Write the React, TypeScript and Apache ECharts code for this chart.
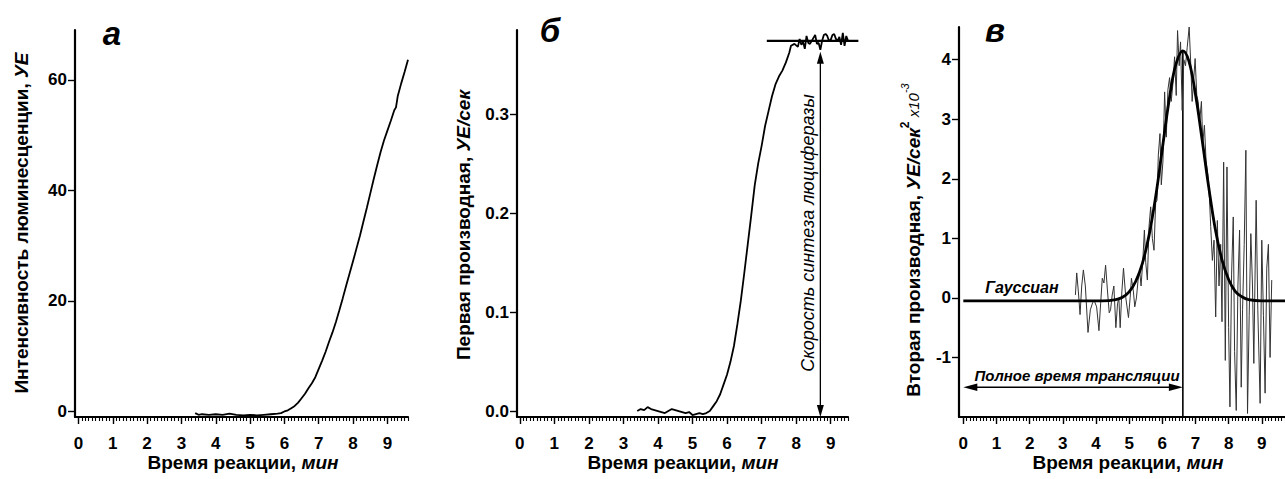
import React, { useEffect, useRef } from "react";
import * as echarts from "echarts";

const FONT = '"Liberation Sans", Arial, Helvetica, sans-serif';

// ---- tick labels ----
const xTickValues = [0, 1, 2, 3, 4, 5, 6, 7, 8, 9];
const xMinorTicks: number[] = [];
for (let i = 0; i <= 97; i++) xMinorTicks.push(i / 10);
const yTicksA = [0, 20, 40, 60];
const yTicksB = [0.0, 0.1, 0.2, 0.3];
const yTicksC = [-1, 0, 1, 2, 3, 4];

// ---- panel а: luminescence intensity ----
const timeA = [3.4, 3.5, 3.6, 3.8, 4.0, 4.2, 4.4, 4.6, 4.8, 5.0, 5.2, 5.4, 5.6, 5.8, 5.9, 6.0, 6.1, 6.2, 6.3, 6.4, 6.5, 6.6, 6.7, 6.8, 6.9, 7.0, 7.1, 7.2, 7.3, 7.4, 7.5, 7.6, 7.7, 7.8, 7.9, 8.0, 8.1, 8.2, 8.3, 8.4, 8.5, 8.6, 8.7, 8.8, 8.9, 9.0, 9.1, 9.2, 9.25, 9.3, 9.4, 9.5, 9.6];
const lumA = [-0.3, -0.6, -0.5, -0.6, -0.5, -0.6, -0.4, -0.6, -0.7, -0.6, -0.7, -0.6, -0.5, -0.4, -0.3, 0.0, 0.2, 0.6, 1.0, 1.6, 2.4, 3.2, 4.2, 5.1, 6.2, 7.7, 9.2, 10.8, 12.6, 14.3, 16.2, 18.3, 20.5, 22.8, 25.0, 27.2, 29.5, 31.8, 34.3, 36.8, 39.4, 42.0, 44.5, 46.9, 49.0, 50.8, 52.6, 54.5, 55.0, 57.0, 59.3, 61.4, 63.6];

// ---- panel б: first derivative ----
const timeB = [3.4, 3.5, 3.6, 3.7, 3.8, 3.9, 4.0, 4.1, 4.2, 4.3, 4.4, 4.5, 4.6, 4.7, 4.8, 4.9, 5.0, 5.1, 5.2, 5.3, 5.4, 5.5, 5.6, 5.7, 5.8, 5.9, 6.0, 6.1, 6.2, 6.3, 6.4, 6.5, 6.6, 6.7, 6.8, 6.9, 7.0, 7.1, 7.2, 7.3, 7.4, 7.5, 7.6, 7.7, 7.8, 7.85, 7.95, 8.05, 8.1, 8.15, 8.2, 8.25, 8.3, 8.35, 8.4, 8.5, 8.55, 8.6, 8.65, 8.7, 8.75, 8.8, 8.85, 8.9, 8.95, 9.0, 9.05, 9.1, 9.15, 9.2, 9.25, 9.3, 9.35, 9.4, 9.45, 9.5];
const rateB = [0.0, 0.002, 0.001, 0.004, 0.002, 0.001, 0.0, -0.001, -0.002, 0.0, 0.002, 0.001, 0.0, -0.001, -0.002, -0.001, -0.004, -0.003, -0.002, -0.003, -0.002, 0.0, 0.005, 0.01, 0.017, 0.027, 0.037, 0.05, 0.066, 0.088, 0.112, 0.14, 0.169, 0.198, 0.228, 0.25, 0.268, 0.288, 0.303, 0.318, 0.33, 0.338, 0.344, 0.352, 0.362, 0.369, 0.371, 0.368, 0.376, 0.37, 0.373, 0.366, 0.379, 0.372, 0.371, 0.377, 0.38, 0.371, 0.372, 0.365, 0.374, 0.38, 0.381, 0.379, 0.374, 0.375, 0.38, 0.381, 0.376, 0.374, 0.378, 0.37, 0.382, 0.369, 0.379, 0.374];

// ---- panel в: second derivative (noisy) ----
const timeC = [3.38, 3.42, 3.47, 3.52, 3.57, 3.62, 3.68, 3.76, 3.83, 3.9, 3.95, 4.02, 4.09, 4.14, 4.19, 4.24, 4.29, 4.35, 4.4, 4.44, 4.49, 4.54, 4.6, 4.65, 4.69, 4.73, 4.78, 4.83, 4.9, 4.98, 5.03, 5.07, 5.13, 5.17, 5.22, 5.27, 5.32, 5.36, 5.41, 5.46, 5.5, 5.55, 5.6, 5.65, 5.7, 5.75, 5.8, 5.84, 5.88, 5.93, 5.97, 6.02, 6.07, 6.12, 6.17, 6.22, 6.27, 6.32, 6.37, 6.42, 6.46, 6.51, 6.55, 6.6, 6.65, 6.7, 6.75, 6.81, 6.86, 6.9, 6.95, 6.99, 7.04, 7.08, 7.13, 7.18, 7.22, 7.27, 7.32, 7.37, 7.42, 7.46, 7.51, 7.56, 7.61, 7.66, 7.71, 7.76, 7.8, 7.85, 7.9, 7.95, 8.0, 8.04, 8.09, 8.14, 8.18, 8.23, 8.28, 8.33, 8.38, 8.42, 8.47, 8.52, 8.57, 8.62, 8.67, 8.72, 8.76, 8.8, 8.83, 8.88, 8.95, 9.0, 9.05, 9.1, 9.15, 9.2, 9.25, 9.3];
const accelC = [0.05, 0.42, 0.1, -0.28, 0.2, 0.47, 0.2, -0.58, -0.2, -0.08, -0.05, -0.15, -0.55, -0.1, 0.33, 0.25, 0.55, 0.1, -0.25, -0.2, 0.05, 0.2, -0.5, -0.1, 0.0, -0.5, 0.1, 0.5, 0.0, -0.33, 0.0, 0.33, 0.1, -0.15, 0.0, 0.3, 0.44, 0.2, 0.6, 1.14, 0.6, 0.3, 1.2, 1.53, 1.0, 0.8, 1.6, 1.64, 2.4, 2.76, 1.9, 2.3, 3.46, 2.7, 3.5, 3.7, 3.3, 3.6, 4.05, 3.4, 4.49, 3.9, 4.3, 3.15, 4.0, 3.9, 4.2, 4.55, 3.9, 3.3, 3.7, 4.02, 3.4, 3.3, 2.98, 3.3, 2.6, 2.9, 2.3, 2.09, 1.7, 1.2, 0.63, 0.97, -0.32, 1.3, 0.2, 0.9, -0.4, 2.28, -1.05, 2.2, -0.5, -1.83, 0.4, 1.36, -0.9, -1.89, 0.2, 1.14, -1.5, -0.2, 0.9, 2.48, -1.94, -0.3, 1.08, 0.2, -1.1, 0.5, 1.64, -0.2, -1.77, 0.97, -0.3, -1.6, 0.5, 0.9, -1.0, 0.3];

// ---- panel в: Gaussian fit ----
const timeGauss = [0, 4.2, 4.6, 4.8, 5.0, 5.2, 5.4, 5.6, 5.8, 6.0, 6.2, 6.4, 6.62, 6.8, 7.0, 7.2, 7.4, 7.6, 7.8, 8.0, 8.2, 8.4, 8.6, 9.0, 9.7];
const gaussC = [-0.05, -0.05, -0.03, 0.01, 0.1, 0.28, 0.58, 1.05, 1.7, 2.5, 3.3, 3.9, 4.15, 3.98, 3.42, 2.66, 1.86, 1.15, 0.64, 0.31, 0.11, 0.02, -0.03, -0.05, -0.05];

// ---- annotations (data coordinates) ----
const plateauB = 0.374;
const plateauStartB = 7.15;
const plateauEndB = 9.8;
const arrowXB = 8.7;
const arrowTopB = 0.363;
const peakTimeC = 6.62;
const peakValC = 4.15;
const arrowYC = -1.5;

const ranges = {
  a: { xmin: -0.1, xmax: 9.6, ymin: -1, ymax: 69 },
  b: { xmin: -0.08, xmax: 9.5, ymin: -0.006, ymax: 0.385 },
  c: { xmin: -0.13, xmax: 9.7, ymin: -2, ymax: 4.55 },
};

const tickLabel = { fontSize: 17, fontWeight: "bold", color: "#000", fontFamily: FONT };

function mkX(gi: number, min: number, max: number) {
  return [
    {
      type: "value", gridIndex: gi, min, max, position: "bottom",
      axisLine: { show: true, onZero: false, lineStyle: { color: "#000", width: 2.2 } },
      splitLine: { show: false },
      axisTick: { show: true, customValues: xTickValues, length: 7, lineStyle: { color: "#000", width: 1.4 } },
      axisLabel: { show: true, customValues: xTickValues, margin: 18, ...tickLabel },
    },
    {
      type: "value", gridIndex: gi, min, max, position: "bottom",
      axisLine: { show: false, onZero: false },
      splitLine: { show: false },
      axisTick: { show: true, customValues: xMinorTicks.filter((v) => v <= max), length: 4, lineStyle: { color: "#000", width: 1.1 } },
      axisLabel: { show: false },
    },
  ];
}

function mkY(gi: number, min: number, max: number, ticks: number[], fmt?: (v: number) => string) {
  return {
    type: "value", gridIndex: gi, min, max,
    axisLine: { show: true, onZero: false, lineStyle: { color: "#000", width: 2.2 } },
    splitLine: { show: false },
    axisTick: { show: true, customValues: ticks, length: 7, lineStyle: { color: "#000", width: 1.4 } },
    axisLabel: { show: true, customValues: ticks, margin: 8, formatter: fmt, ...tickLabel },
  };
}

export default function App() {
  const ref = useRef<HTMLDivElement>(null);
  useEffect(() => {
    if (!ref.current) return;
    const chart = echarts.init(ref.current, null, { renderer: "svg" });
    const pairs = (xs: number[], ys: number[]) => xs.map((x, i) => [x, ys[i]]);
    chart.setOption({
      animation: false,
      backgroundColor: "#fff",
      grid: [
        { left: 75, top: 30, width: 333, height: 387 },
        { left: 517, top: 30, width: 331, height: 387 },
        { left: 959, top: 27, width: 340, height: 390 },
      ],
      xAxis: [
        ...mkX(0, ranges.a.xmin, ranges.a.xmax),
        ...mkX(1, ranges.b.xmin, ranges.b.xmax),
        ...mkX(2, ranges.c.xmin, ranges.c.xmax),
      ],
      yAxis: [
        mkY(0, ranges.a.ymin, ranges.a.ymax, yTicksA),
        mkY(1, ranges.b.ymin, ranges.b.ymax, yTicksB, (v: number) => v.toFixed(1)),
        mkY(2, ranges.c.ymin, ranges.c.ymax, yTicksC),
      ],
      series: [
        { type: "line", xAxisIndex: 0, yAxisIndex: 0, data: pairs(timeA, lumA), symbol: "none", lineStyle: { color: "#000", width: 1.8 } },
        { type: "line", xAxisIndex: 2, yAxisIndex: 1, data: pairs(timeB, rateB), symbol: "none", lineStyle: { color: "#000", width: 1.8 } },
        { type: "line", xAxisIndex: 4, yAxisIndex: 2, data: pairs(timeC, accelC), symbol: "none", lineStyle: { color: "#333", width: 1 } },
        { type: "line", xAxisIndex: 4, yAxisIndex: 2, data: pairs(timeGauss, gaussC), symbol: "none", smooth: 0.4, lineStyle: { color: "#000", width: 2.8 } },
      ],
    });

    const P = (si: number, x: number, y: number) => chart.convertToPixel({ seriesIndex: si }, [x, y]) as number[];
    const txt = (x: number, y: number, text: string, extra: any = {}, rotation = 0) => ({
      type: "text", x, y, rotation, silent: true,
      style: {
        text, fill: "#000", fontFamily: FONT, fontSize: 19, fontWeight: "bold",
        align: "center", verticalAlign: "middle", textAlign: "center", textVerticalAlign: "middle",
        ...extra,
      },
    });
    const line = (a: number[], b: number[], w: number) => ({
      type: "line", silent: true,
      shape: { x1: a[0], y1: a[1], x2: b[0], y2: b[1] },
      style: { stroke: "#000", lineWidth: w },
    });
    const head = (tip: number[], dir: number[], len: number, hw: number) => {
      const bx = tip[0] - dir[0] * len, by = tip[1] - dir[1] * len;
      const nx = -dir[1], ny = dir[0];
      return {
        type: "polygon", silent: true,
        shape: { points: [tip, [bx + nx * hw, by + ny * hw], [bx - nx * hw, by - ny * hw]] },
        style: { fill: "#000" },
      };
    };

    const pb1 = P(1, plateauStartB, plateauB), pb2 = P(1, plateauEndB, plateauB);
    const av1 = P(1, arrowXB, arrowTopB), av2 = P(1, arrowXB, ranges.b.ymin);
    const vc1 = P(2, peakTimeC, ranges.c.ymin), vc2 = P(2, peakTimeC, peakValC);
    const hc1 = P(2, 0, arrowYC), hc2 = P(2, peakTimeC, arrowYC);

    const italic = { fontStyle: "italic" };
    const iRich = { i: { fontStyle: "italic", fontWeight: "bold", fontSize: 19, fontFamily: FONT } };
    chart.setOption({
      graphic: [
        line(pb1, pb2, 2.2),
        line([av1[0], av1[1] + 6], [av2[0], av2[1] - 6], 1.3),
        head(av1, [0, -1], 12, 3.5),
        head(av2, [0, 1], 12, 3.5),
        line(vc1, vc2, 1.6),
        line([hc1[0] + 6, hc1[1]], [hc2[0] - 6, hc2[1]], 1.6),
        head(hc1, [-1, 0], 14, 3.8),
        head(hc2, [1, 0], 14, 3.8),
        txt(112, 33, "а", { fontSize: 33, fontStyle: "italic" }),
        txt(550, 30, "б", { fontSize: 33, fontStyle: "italic" }),
        txt(995, 30, "в", { fontSize: 33, fontStyle: "italic" }),
        txt(243, 462, "Время реакции, {i|мин}", { rich: iRich }),
        txt(683, 462, "Время реакции, {i|мин}", { rich: iRich }),
        txt(1128, 462, "Время реакции, {i|мин}", { rich: iRich }),
        txt(21, 223, "Интенсивность люминесценции, {i|УЕ}", { rich: iRich }, Math.PI / 2),
        txt(463, 225, "Первая производная, {i|УЕ/сек}", { rich: iRich }, Math.PI / 2),
        txt(913, 240, "Вторая производная, {i|УЕ/сек}{sup|2}{x| x10}{sup2|-3}", {
          rich: {
            ...iRich,
            sup: { fontWeight: "bold", fontSize: 12, fontFamily: FONT, padding: [0, 0, 16, 0] },
            x: { fontStyle: "italic", fontWeight: "normal", fontSize: 15, fontFamily: FONT },
            sup2: { fontStyle: "italic", fontWeight: "normal", fontSize: 11, fontFamily: FONT, padding: [0, 0, 16, 0] },
          },
        }, Math.PI / 2),
        txt(808, 233, "Скорость синтеза люциферазы", { fontSize: 18, fontWeight: "normal", ...italic }, Math.PI / 2),
        txt(1022, 287, "Гауссиан", { fontSize: 16, ...italic }),
        txt(1077, 375, "Полное время трансляции", { fontSize: 15, ...italic }),
      ],
    });
    return () => chart.dispose();
  }, []);
  return <div ref={ref} style={{ position: "fixed", left: 0, top: 0, width: 1285, height: 479, background: "#fff" }} />;
}
